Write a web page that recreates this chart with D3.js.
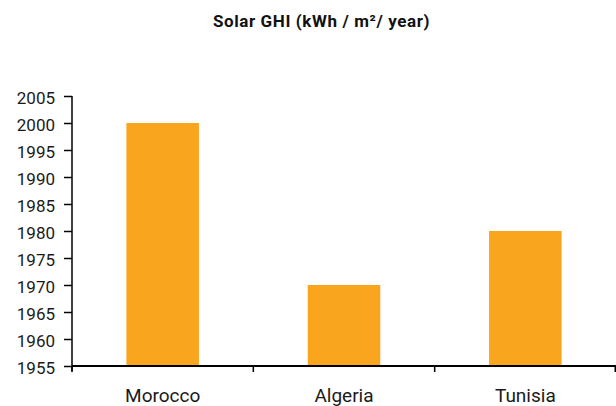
<!DOCTYPE html>
<html>
<head>
<meta charset="utf-8">
<script src="https://cdn.jsdelivr.net/npm/d3@7"></script>
<style>
  html, body { margin: 0; padding: 0; background: #fff; }
  svg { display: block; }
  .tick text { font-family: Roboto, "Liberation Sans", sans-serif; fill: #1a1a1a; }
</style>
</head>
<body>
<svg id="chart" width="616" height="406"></svg>
<script>
// Solar irradiance (GHI) by country
const countries = ["Morocco", "Algeria", "Tunisia"];
const ghiValues = [2000, 1970, 1980];
const yTicks = [1955, 1960, 1965, 1970, 1975, 1980, 1985, 1990, 1995, 2000, 2005];
const chartTitle = "Solar GHI (kWh / m\u00B2/ year)";

const svg = d3.select("#chart");
const plotLeft = 72, plotRight = 616, plotTop = 96, plotBottom = 366;

const x = d3.scaleBand()
  .domain(countries)
  .range([plotLeft, plotRight])
  .paddingInner(0.6)
  .paddingOuter(0.3);

const y = d3.scaleLinear()
  .domain([d3.min(yTicks), d3.max(yTicks)])
  .range([plotBottom, plotTop]);

// title
svg.append("text")
  .attr("x", 321.5)
  .attr("y", 27)
  .attr("text-anchor", "middle")
  .attr("font-family", "Roboto, 'Liberation Sans', sans-serif")
  .attr("font-weight", "bold")
  .attr("font-size", 17)
  .attr("letter-spacing", 0.6)
  .attr("fill", "#111")
  .text(chartTitle);

// bars
svg.append("g")
  .selectAll("rect")
  .data(countries.map((c, i) => ({ c, v: ghiValues[i] })))
  .join("rect")
  .attr("x", d => x(d.c))
  .attr("width", x.bandwidth())
  .attr("y", d => y(d.v))
  .attr("height", d => y(d3.min(yTicks)) - y(d.v))
  .attr("fill", "#F9A61E");

// y axis
const yAxis = svg.append("g")
  .attr("transform", `translate(${plotLeft},0)`)
  .call(d3.axisLeft(y).tickValues(yTicks).tickFormat(d3.format("d")).tickSize(8).tickPadding(9));
yAxis.select(".domain").attr("stroke", "#000").attr("stroke-width", 1.5)
  .attr("d", `M0,${plotTop}V${plotBottom + 5}`);
yAxis.selectAll(".tick line").attr("stroke", "#000").attr("stroke-width", 1.5);
yAxis.selectAll(".tick text").attr("font-size", 17).attr("dy", "0.42em");

// x axis with category boundary ticks
const step = x.step();
const xAxis = svg.append("g")
  .attr("transform", `translate(0,${plotBottom})`)
  .call(d3.axisBottom(x).tickSize(0).tickPadding(36));
xAxis.select(".domain").attr("stroke", "#000").attr("stroke-width", 2)
  .attr("d", `M${plotLeft},0H${plotRight}`);
xAxis.selectAll(".tick text").attr("font-size", 19).attr("dy", "0");
xAxis.selectAll("line.boundary")
  .data(d3.range(countries.length + 1))
  .join("line")
  .attr("class", "boundary")
  .attr("x1", i => Math.min(plotLeft + i * step, plotRight - 0.75))
  .attr("x2", i => Math.min(plotLeft + i * step, plotRight - 0.75))
  .attr("y1", 0)
  .attr("y2", 6)
  .attr("stroke", "#000")
  .attr("stroke-width", 1.5);
</script>
</body>
</html>
